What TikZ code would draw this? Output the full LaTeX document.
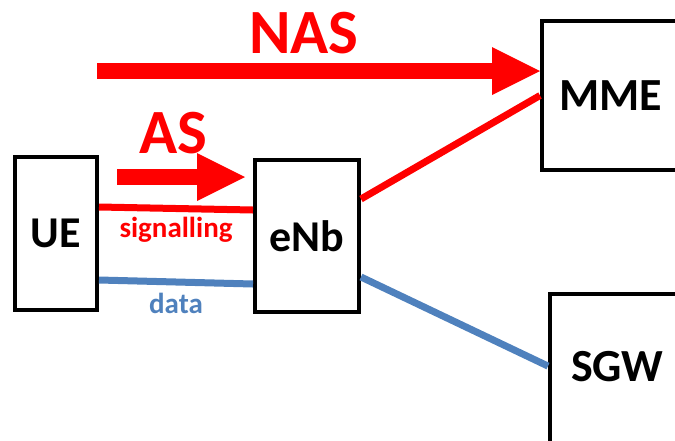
\documentclass[tikz,border=0pt]{standalone}
\usepackage{fontspec}
\setmainfont{Carlito}
\usepackage{xcolor}
\usetikzlibrary{arrows.meta,positioning,calc}
\definecolor{sigred}{RGB}{255,0,0}
\definecolor{datablue}{RGB}{79,129,189}

\begin{document}
\begin{tikzpicture}[x=1pt, y=-1pt,
		box/.style={draw, line width=4pt, rectangle, inner sep=0pt, font=\bfseries\fontsize{44}{44}\selectfont},
		sigline/.style={sigred, line width=7pt},
		dataline/.style={datablue, line width=7pt},
		bigarrow/.style={sigred, line width=16pt, -{Triangle[length=48pt,width=48pt,line width=0pt]}},
		arrowtext/.style={text=sigred, inner sep=0pt, font=\bfseries\fontsize{63}{63}\selectfont},
		sigtext/.style={text=sigred, inner sep=0pt, font=\bfseries\fontsize{29}{29}\selectfont},
		datatext/.style={text=datablue, inner sep=0pt, font=\bfseries\fontsize{29}{29}\selectfont}]
		\useasboundingbox (0,0) rectangle (675,440);
		\clip (0,0) rectangle (675,440);

		\node[box, minimum width=82pt, minimum height=153pt] (ue) at (56,233.5) {UE};
		\node[box, minimum width=104pt, minimum height=152pt] (enb) at (307,236) {eNb};
		\node[box, anchor=north west, text width=120pt, align=left, inner xsep=17pt, minimum height=149pt, font=\bfseries\fontsize{46}{46}\selectfont] (mme) at (540,19) {MME};
		\node[box, anchor=north west, text width=120pt, align=left, inner xsep=21pt, inner ysep=57pt, text depth=20pt, font=\bfseries\fontsize{46}{46}\selectfont] (sgw) at (548,292) {SGW};

		\draw[sigline] ([yshift=26.5pt]ue.east) -- ([yshift=26pt]enb.west) node[midway, yshift=-21pt, sigtext] (siglabel) {signalling};
		\draw[dataline] ([yshift=-46.5pt]ue.east) -- ([yshift=-48pt]enb.west) node[midway, yshift=-21pt, datatext] (datalabel) {data};
		\draw[sigline] ([yshift=37pt]enb.east) -- (mme.west);
		\draw[dataline] ([yshift=-41pt]enb.east) -- ([yshift=10pt]sgw.west);

		\coordinate (nasstart) at (97,71);
		\draw[bigarrow] (nasstart) -- (nasstart -| mme.west);
		\node[arrowtext] (naslabel) at (304,33) {NAS};

		\coordinate (asstart) at (117,177);
		\draw[bigarrow] (asstart) -- ([xshift=-8pt]asstart -| enb.west);
		\node[arrowtext] (aslabel) at (173,133) {AS};
	\end{tikzpicture}
\end{document}
